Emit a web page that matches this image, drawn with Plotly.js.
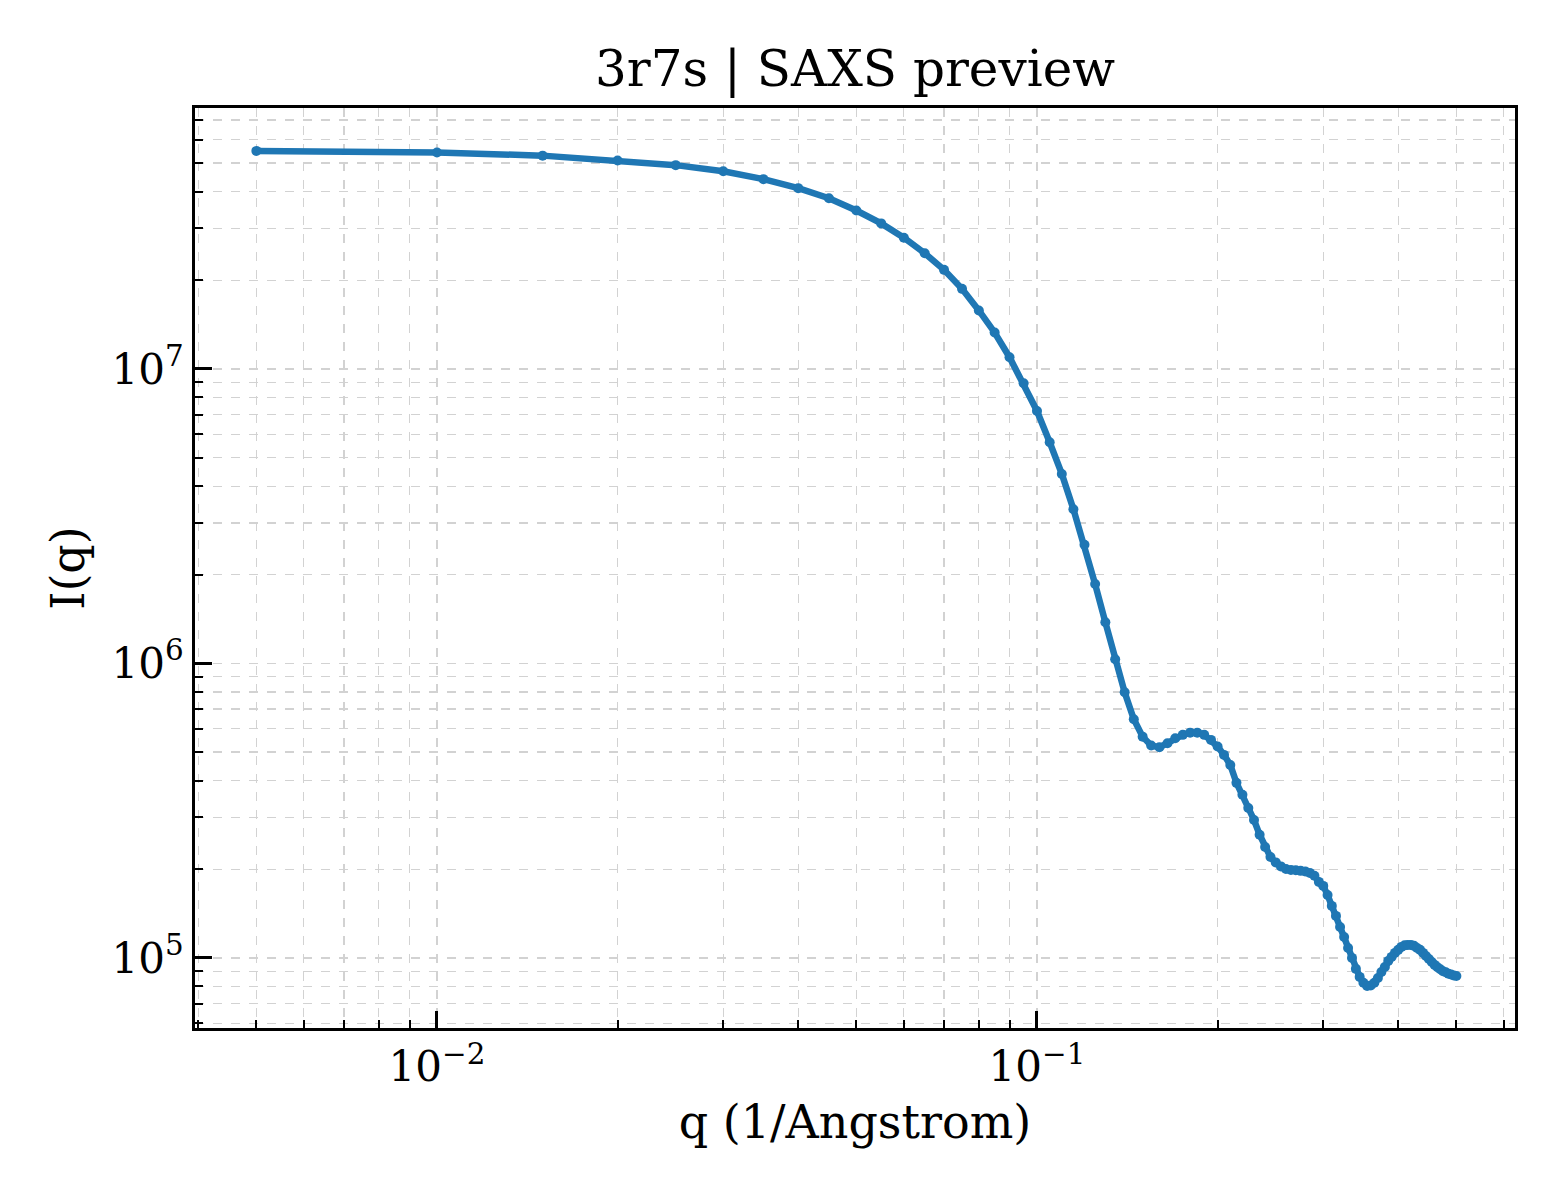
<!DOCTYPE html>
<html>
<head>
<meta charset="utf-8">
<script src="https://cdn.plot.ly/plotly-3.0.1.min.js"></script>
<style>
  html, body { margin: 0; padding: 0; background: #fff; }
  #plot { width: 1560px; height: 1200px; }
</style>
</head>
<body>
<div id="plot"></div>
<script>
// scattering vector, 1/Angstrom
var q = [
  0.005, 0.010, 0.015, 0.020, 0.025, 0.030, 0.035, 0.040, 0.045, 0.050,
  0.055, 0.060, 0.065, 0.070, 0.075, 0.080, 0.085, 0.090, 0.095, 0.100,
  0.105, 0.110, 0.115, 0.120, 0.125, 0.130, 0.135, 0.140, 0.145, 0.150,
  0.155, 0.160, 0.165, 0.170, 0.175, 0.180, 0.185, 0.190, 0.195, 0.200,
  0.205, 0.210, 0.215, 0.220, 0.225, 0.230, 0.235, 0.240, 0.245, 0.250,
  0.255, 0.260, 0.265, 0.270, 0.275, 0.280, 0.285, 0.290, 0.295, 0.300,
  0.305, 0.310, 0.315, 0.320, 0.325, 0.330, 0.335, 0.340, 0.345, 0.350,
  0.355, 0.360, 0.365, 0.370, 0.375, 0.380, 0.385, 0.390, 0.395, 0.400,
  0.405, 0.410, 0.415, 0.420, 0.425, 0.430, 0.435, 0.440, 0.445, 0.450,
  0.455, 0.460, 0.465, 0.470, 0.475, 0.480, 0.485, 0.490, 0.495, 0.500
];

// intensity
var intensity = [
  5.50e7, 5.43e7, 5.30e7, 5.10e7, 4.92e7, 4.69e7, 4.41e7, 4.11e7, 3.80e7, 3.45e7,
  3.12e7, 2.79e7, 2.47e7, 2.17e7, 1.87e7, 1.58e7, 1.33e7, 1.096e7, 8.94e6, 7.20e6,
  5.64e6, 4.40e6, 3.34e6, 2.53e6, 1.86e6, 1.38e6, 1.033e6, 7.98e5, 6.46e5, 5.64e5,
  5.26e5, 5.19e5, 5.36e5, 5.57e5, 5.72e5, 5.82e5, 5.82e5, 5.72e5, 5.50e5, 5.22e5,
  4.89e5, 4.52e5, 3.93e5, 3.58e5, 3.23e5, 2.94e5, 2.62e5, 2.38e5, 2.20e5, 2.11e5,
  2.045e5, 2.005e5, 1.99e5, 1.985e5, 1.975e5, 1.967e5, 1.944e5, 1.90e5, 1.812e5, 1.756e5,
  1.636e5, 1.502e5, 1.389e5, 1.274e5, 1.178e5, 1.081e5, 1.00e5, 9.18e4, 8.62e4, 8.23e4,
  8.03e4, 8.06e4, 8.23e4, 8.55e4, 8.96e4, 9.32e4, 9.77e4, 1.008e5, 1.040e5, 1.065e5,
  1.090e5, 1.103e5, 1.107e5, 1.107e5, 1.099e5, 1.081e5, 1.065e5, 1.040e5, 1.015e5, 9.92e4,
  9.69e4, 9.47e4, 9.29e4, 9.15e4, 9.01e4, 8.94e4, 8.84e4, 8.78e4, 8.71e4, 8.68e4
];

var xTickVals = [0.01, 0.1];
var xTickText = ['10<sup>\u22122</sup>', '10<sup>\u22121</sup>'];
var yTickVals = [1e5, 1e6, 1e7];
var yTickText = ['10<sup>5</sup>', '10<sup>6</sup>', '10<sup>7</sup>'];

var serif = '"DejaVu Serif", "Liberation Serif", serif';
var gridGrey = '#d2d2d2';

var trace = {
  x: q,
  y: intensity,
  type: 'scatter',
  mode: 'lines+markers',
  line: { color: '#1f77b4', width: 6.5 },
  marker: { color: '#1f77b4', size: 10 },
  hoverinfo: 'x+y'
};

function logAxis(range, vals, text, label, standoff) {
  return {
    type: 'log',
    range: range,
    tickmode: 'array',
    tickvals: vals,
    ticktext: text,
    ticks: 'inside',
    ticklen: 17,
    tickwidth: 3,
    tickcolor: '#000',
    tickfont: { family: serif, size: 42, color: '#000' },
    showline: true,
    linecolor: '#000',
    linewidth: 3,
    mirror: true,
    showgrid: true,
    gridcolor: gridGrey,
    gridwidth: 1.5,
    griddash: 'dash',
    zeroline: false,
    minor: {
      ticks: 'inside',
      ticklen: 8,
      tickwidth: 2,
      tickcolor: '#000',
      dtick: 'D1',
      showgrid: true,
      gridcolor: gridGrey,
      gridwidth: 1.2,
      griddash: 'dash'
    },
    title: {
      text: label,
      font: { family: serif, size: 46, color: '#000' },
      standoff: standoff
    },
    automargin: false
  };
}

var layout = {
  width: 1560,
  height: 1200,
  margin: { l: 195, r: 45, t: 108, b: 172 },
  paper_bgcolor: '#fff',
  plot_bgcolor: '#fff',
  showlegend: false,
  title: {
    text: '3r7s | SAXS preview',
    font: { family: serif, size: 50, color: '#000' },
    x: 0.5,
    xref: 'paper',
    xanchor: 'center',
    y: 1,
    yref: 'paper',
    yanchor: 'bottom',
    pad: { b: 22 }
  },
  xaxis: logAxis([-2.4033, -0.2033], xTickVals, xTickText, 'q (1/Angstrom)', 16),
  yaxis: logAxis([4.762, 7.886], yTickVals, yTickText, 'I(q)', 13)
};

Plotly.newPlot('plot', [trace], layout, { displayModeBar: false, staticPlot: true });
</script>
</body>
</html>
